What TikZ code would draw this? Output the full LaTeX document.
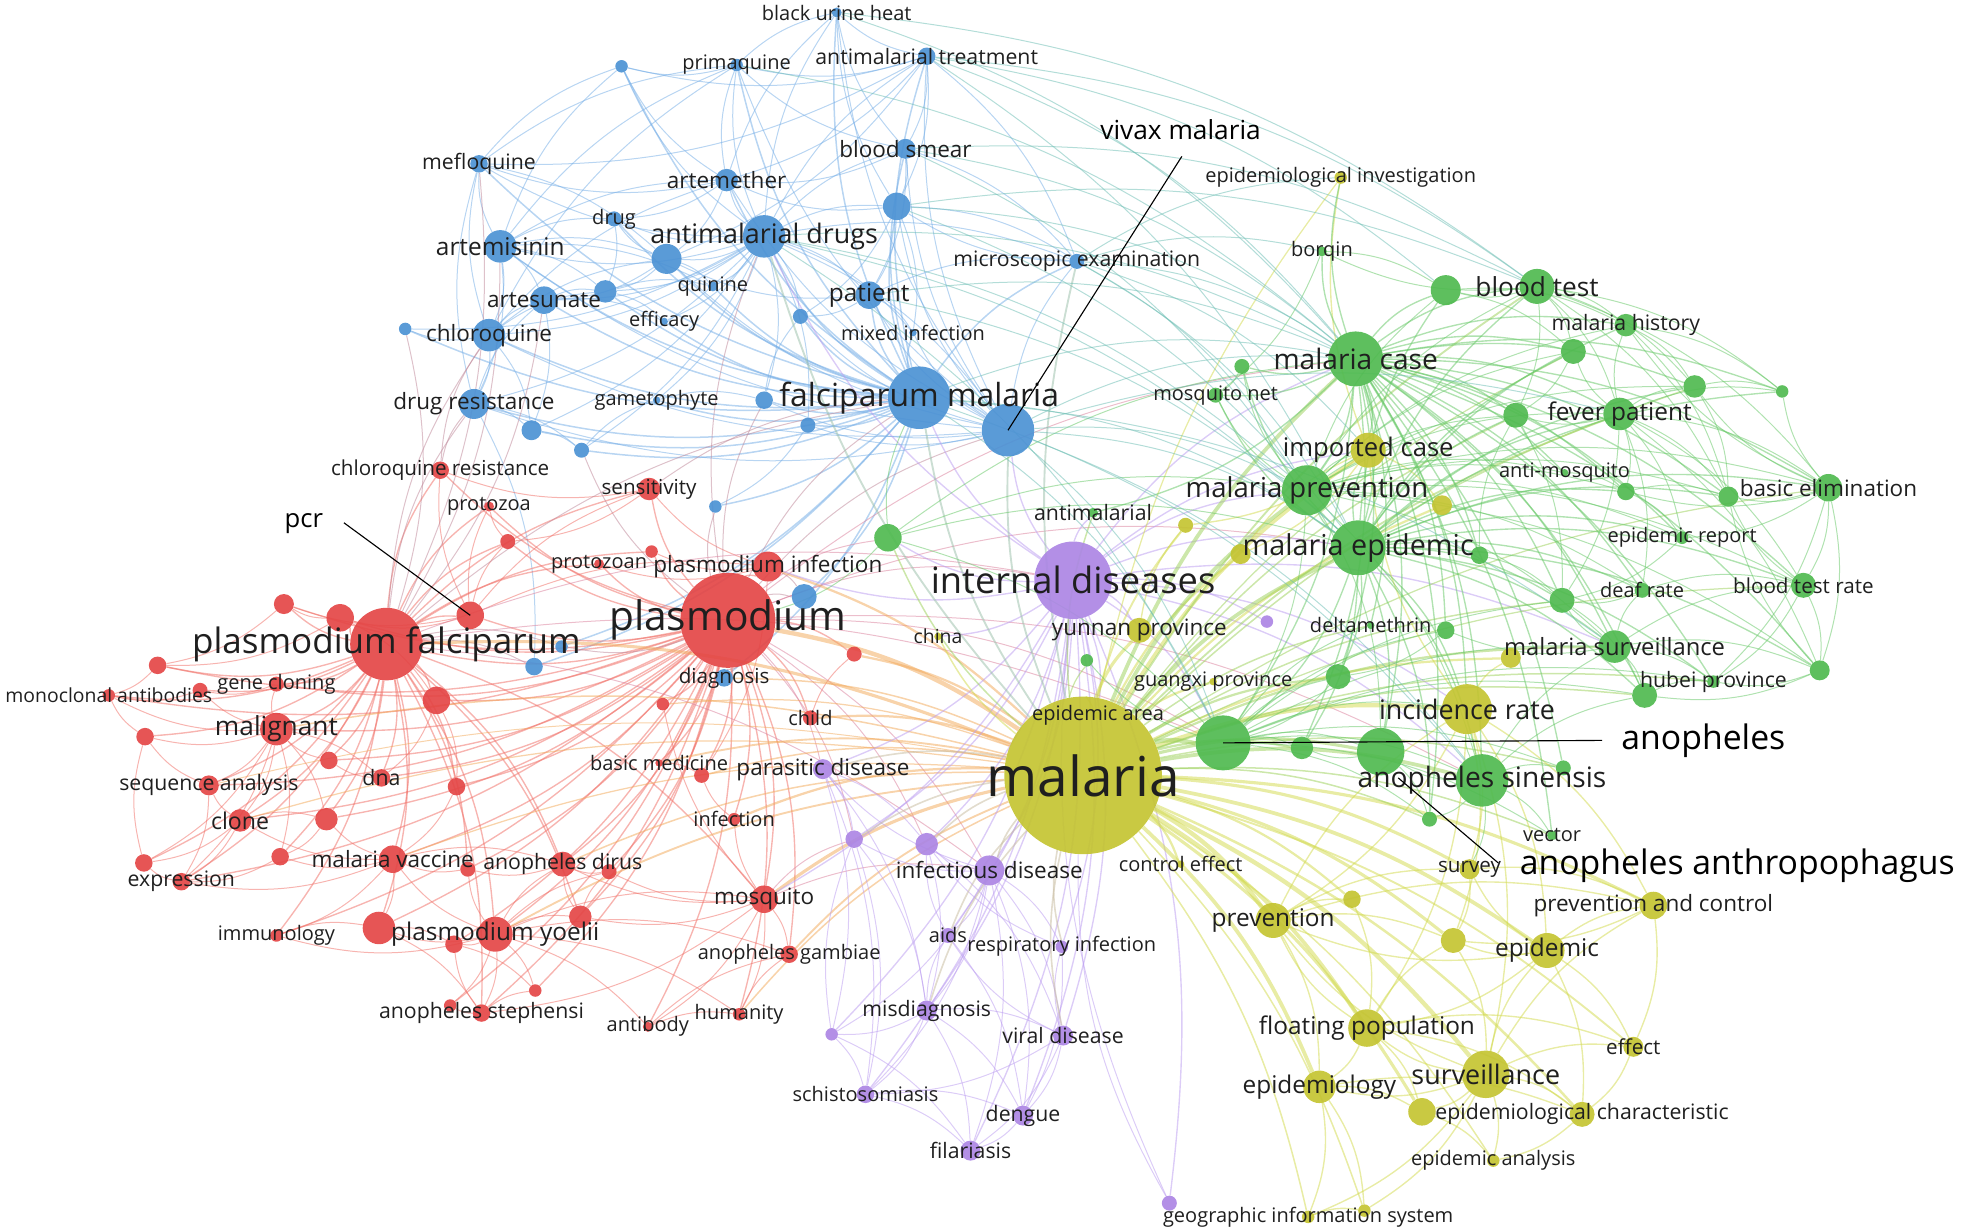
\documentclass[tikz,border=0pt]{standalone}
\usepackage{fontspec}
\newfontfamily\kwfont{Open Sans}
\definecolor{cred}{RGB}{228,70,70}
\definecolor{cblue}{RGB}{76,146,212}
\definecolor{cgreen}{RGB}{80,186,80}
\definecolor{cyel}{RGB}{196,196,50}
\definecolor{cpur}{RGB}{172,134,228}
\definecolor{ered}{RGB}{240,112,104}
\definecolor{eblue}{RGB}{118,174,230}
\definecolor{egreen}{RGB}{104,200,104}
\definecolor{eyel}{RGB}{210,218,80}
\definecolor{epur}{RGB}{188,158,240}
\definecolor{eorange}{RGB}{242,170,92}
\definecolor{eteal}{RGB}{110,190,180}
\pgfdeclarelayer{edges}
\pgfsetlayers{edges,main}

\begin{document}
\begin{tikzpicture}[x=1pt,y=-1pt,
  kw/.style={circle,inner sep=0pt,fill=#1,fill opacity=.92},
  lbl/.style={text=black!88,inner sep=0pt},
  ln/.style={draw=#1,line width=.8pt,draw opacity=.52},
  lead/.style={draw=black,line width=.9pt}]
\useasboundingbox (0,0) rectangle (1568,985);

% keywords: name/x/y/radius/colour
\foreach \nm/\x/\y/\rad/\col in {
  bu/669/10/4/cblue, pq/589/52/5/cblue, b1/497/53/5/cblue, at/741/45/7/cblue,
  bs/724/119/8/cblue, ae/581/144/9/cblue, mf/383/131/7/cblue, dr/491/175/6/cblue,
  as/400/197/13/cblue, ad/611/189/17/cblue, b2/533/207/12/cblue, b3/717/165/11/cblue,
  au/435/240/11/cblue, b4/484/233/9/cblue, qn/570/229/4/cblue, ef/531/257/3/cblue,
  cq/391/268/13/cblue, b5/324/263/5/cblue, pt/695/236/11/cblue, b6/640/253/6/cblue,
  mi/730/266/3/cblue, me/861/209/6/cblue, drs/379/323/12/cblue, gm/525/320/3/cblue,
  b7/611/320/7/cblue, fm/735/318/25/cblue, vm/806/344/21/cblue, b8/425/344/8/cblue,
  b9/465/360/6/cblue, b10/572/405/5/cblue, b11/643/477/10/cblue, b12/646/340/6/cblue,
  dg/579/542/7/cblue, b13/427/533/7/cblue, b14/449/517/5/cblue}
  \node[kw=\col,minimum size=2*\rad] (\nm) at (\x,\y) {};
\foreach \nm/\x/\y/\rad/\col in {
  cr/352/376/7/cred, pz/391/405/4/cred, sn/519/391/9/cred, pcr/376/492/11/cred,
  r1/406/433/6/cred, r2/521/441/5/cred, pzn/479/451/4/cred, pi/614/453/12/cred,
  pl/582/496/38/cred, pf/309/515/29/cred, r3/272/494/11/cred, r4/227/483/8/cred,
  r5/349/560/11/cred, r6/126/532/7/cred, mab/87/556/5/cred, r7/160/552/6/cred,
  gc/221/547/6/cred, mg/221/583/13/cred, r8/116/589/7/cred, r9/263/608/7/cred,
  sa/167/628/8/cred, dna/305/622/7/cred, r10/365/629/7/cred, cl/192/656/9/cred,
  r11/261/655/9/cred, r12/224/685/7/cred, r13/115/690/7/cred, ex/145/705/7/cred,
  mv/314/687/11/cred, r14/374/695/6/cred, adi/450/691/10/cred, r15/487/697/6/cred,
  r16/464/733/9/cred, im/221/748/5/cred, py/396/747/14/cred, r17/303/742/13/cred,
  r18/363/755/7/cred, r19/428/792/5/cred, ast/385/810/7/cred, r20/360/804/5/cred,
  ab/518/821/4/cred, hu/591/811/5/cred, mq/611/719/11/cred, ag/631/763/7/cred,
  inf/587/655/5/cred, bm/527/610/3/cred, r23/561/620/6/cred, ch/648/574/6/cred,
  r21/530/563/5/cred, r22/683/523/6/cred}
  \node[kw=\col,minimum size=2*\rad] (\nm) at (\x,\y) {};
\foreach \nm/\x/\y/\rad/\col in {
  id/858/464/31/cpur, p1/1013/497/5/cpur, pd/658/615/8/cpur, p2/683/671/7/cpur,
  p3/741/675/9/cpur, idz/791/696/12/cpur, aids/758/748/6/cpur, ri/849/757/5/cpur,
  md/741/808/8/cpur, p4/665/827/5/cpur, vd/850/828/8/cpur, sch/692/875/7/cpur,
  den/818/892/8/cpur, fil/776/920/8/cpur, p5/935/962/6/cpur}
  \node[kw=\col,minimum size=2*\rad] (\nm) at (\x,\y) {};
\foreach \nm/\x/\y/\rad/\col in {
  ml/866/620/63/cyel, ea/878/572/3/cyel, yp/911/504/10/cyel, chn/750/509/3/cyel,
  gxpv/970/545/3/cyel, ce/944/691/3/cyel, ic/1094/360/14/cyel, ei/1072/142/5/cyel,
  y1/948/420/6/cyel, y2/1153/404/8/cyel, y3/992/443/8/cyel, ir/1173/567/20/cyel,
  y4/1208/526/8/cyel, prv/1018/736/14/cyel, sv/1175/695/8/cyel, y5/1081/719/7/cyel,
  pc/1322/724/11/cyel, y6/1162/752/10/cyel, epi/1237/760/14/cyel, fp/1093/822/15/cyel,
  eff/1306/837/8/cyel, sur/1188/859/19/cyel, epy/1055/869/13/cyel, y7/1137/889/11/cyel,
  ech/1265/891/10/cyel, ean/1194/928/5/cyel, gis/1046/973/5/cyel, y8/1091/968/5/cyel}
  \node[kw=\col,minimum size=2*\rad] (\nm) at (\x,\y) {};
\foreach \nm/\x/\y/\rad/\col in {
  bq/1057/201/4/cgreen, bt/1229/229/14/cgreen, g1/1156/232/12/cgreen, mh/1300/260/9/cgreen,
  g2/1258/281/10/cgreen, mc/1084/287/22/cgreen, g3/993/293/6/cgreen, mn/972/316/6/cgreen,
  g4/1355/309/9/cgreen, g5/1425/313/5/cgreen, fvp/1295/331/13/cgreen, g6/1212/332/10/cgreen,
  am/1251/378/3/cgreen, g7/1300/393/7/cgreen, be/1462/390/11/cgreen, g8/1382/397/8/cgreen,
  mp/1045/392/20/cgreen, er/1345/430/5/cgreen, mep/1086/438/22/cgreen, aml/874/410/4/cgreen,
  g9/710/430/11/cgreen, g10/1183/444/7/cgreen, dfr/1313/472/6/cgreen, g11/1249/480/10/cgreen,
  btr/1442/468/10/cgreen, dlt/1096/500/3/cgreen, g12/1156/504/7/cgreen, ms/1291/517/13/cgreen,
  g13/1455/536/8/cgreen, hp/1370/545/5/cgreen, g14/1315/556/10/cgreen, g15/1070/541/10/cgreen,
  g16/869/528/5/cgreen, an/978/594/22/cgreen, g17/1041/598/9/cgreen, aa/1104/601/19/cgreen,
  asn/1185/624/21/cgreen, g18/1143/655/6/cgreen, g19/1250/614/6/cgreen, vec/1241/668/4/cgreen}
  \node[kw=\col,minimum size=2*\rad] (\nm) at (\x,\y) {};

\begin{pgfonlayer}{edges}
% blue
\foreach \n in {bu,pq,b1,at,bs,ae,mf,dr,as,ad,b2,b3,au,b4,qn,ef,cq,b5,pt,b6,mi,me,drs,gm,b7,b8,b9,b10,b11,b12,dg,b13,b14,vm}
  \draw[ln=eblue,line width=1.2pt] (fm) to[bend left=15] (\n);
\foreach \n in {bu,pq,b1,at,bs,ae,mf,dr,as,b2,b3,au,b4,qn,ef,cq,pt,b6,drs,gm,b7,b8,b9,vm,me,mi,b5,b12}
  \draw[ln=eblue] (ad) to[bend left=15] (\n);
\foreach \n in {at,bs,b3,pt,me,mi,b6,ae,bu,pq,b2,as,cq,b12,b7,drs}
  \draw[ln=eblue] (vm) to[bend left=15] (\n);
\foreach \a/\b in {as/mf,as/dr,as/ae,as/au,as/cq,as/drs,as/b4,as/b2,as/qn,as/pq,as/b1,
  cq/mf,cq/au,cq/drs,cq/b5,cq/b8,cq/pq,cq/b2,cq/b4,cq/ae,
  at/bu,at/pq,at/bs,at/b3,at/ae,at/me,at/b2,at/b1,at/mf,
  bs/b3,bs/pt,bs/ae,bs/me,bs/bu,bs/pq,b3/pt,b3/ae,b3/me,b3/b6,b3/mi,b3/bu,
  ae/mf,ae/dr,ae/pq,ae/b1,ae/b2,ae/bu,pt/b6,pt/mi,pt/b2,pt/me,
  drs/b8,drs/b9,drs/au,drs/mf,drs/b13,mf/b1,mf/pq,mf/b2,b2/au,b2/b4,b2/qn,b2/dr,
  au/b4,au/b8,au/ef,b4/ef,b4/qn,b8/b9,b9/gm,gm/b7,b7/b6,b12/b10,pq/bu,pq/b1,me/b3,dr/b4}
  \draw[ln=eblue] (\a) to[bend left=15] (\b);
% red
\foreach \n in {cr,pz,sn,pcr,r1,r2,pzn,pi,pf,r3,r4,r5,gc,mg,r9,sa,dna,r10,cl,r11,mv,r14,adi,r15,r16,py,r17,r18,ast,ab,hu,mq,ag,inf,bm,r21,ch,r22,r23,mab,r6,ex,im,r19,r20}
  \draw[ln=ered,line width=1.1pt] (pl) to[bend left=15] (\n);
\foreach \n in {cr,pz,sn,pcr,r1,r3,r4,r5,r6,mab,r7,gc,mg,r8,r9,sa,dna,r10,cl,r11,r12,r13,ex,mv,r14,adi,py,r17,r16,im,pzn,r2,mq,ast}
  \draw[ln=ered,line width=1.1pt] (pf) to[bend left=15] (\n);
\foreach \n in {mv,adi,ast,r16,r17,r18,r19,r20,im,mq,ag,hu,ab,r14,r15}
  \draw[ln=ered] (py) to[bend left=15] (\n);
\foreach \a/\b in {mg/sa,mg/cl,mg/r8,mg/r11,mg/r12,mg/ex,mg/r13,mg/mab,mg/r7,mg/gc,mg/dna,
  mv/r17,mv/adi,mv/cl,mv/r11,mv/r12,mv/im,mv/ex,mq/ag,mq/hu,mq/ab,mq/inf,mq/adi,mq/ast,mq/r16,
  cl/sa,cl/ex,cl/r13,cl/r11,pcr/r3,pcr/r4,pcr/r1,pcr/pz,pcr/cr,pcr/sn,pcr/pi,
  pi/sn,pi/r2,pi/pzn,pi/r23,sn/r1,sn/cr,r3/r4,r3/r6,r4/r6,ex/r13,sa/r8,
  r3/r5,r5/dna,r5/r10,r9/mg,r11/r12,r17/r18,r16/adi,r15/adi,r14/mv,r1/pz,mq/r21,inf/r23,
  ch/r22,bm/r23,ab/hu,ab/ag,ast/r20,ast/r19,ast/r18,hu/ag,sa/ex,r13/r8,r8/mab,r6/mab,
  r7/mab,gc/r7,im/r17,r10/mv,dna/r9,r12/ex,r18/r19,adi/r14,r16/r15,mq/r15,r17/ast}
  \draw[ln=ered] (\a) to[bend left=15] (\b);
\foreach \a/\b in {pl/fm,pl/vm,pl/ad,pl/dg,pl/b11,pf/fm,pf/drs,pf/cq,sn/fm,cr/cq,cr/drs,pi/b11,pl/b10,pl/b7,
  mf/pf,b5/pf,as/pf,au/pf,pf/b13,pf/b14,pl/b14,pl/b9}
  \draw[ln=ered!60!eblue] (\a) to[bend left=15] (\b);
\foreach \a/\b in {pl/id,pl/pd,pl/idz,pf/id,mq/idz,pl/an,pl/mc,pl/asn,pl/mep,pf/an,pl/g9,pl/p2,pl/p3,mq/p2,pf/idz}
  \draw[ln=ered!60!epur] (\a) to[bend left=15] (\b);
\foreach \n/\w in {pl/3.5,pf/2.5,mq/2.5,pi/1.8,py/1.5,ch/1.8,inf/1.8,bm/1.5,ag/1.5,adi/1.2,hu/1.2,r22/1.8,dg/1.2,r23/1.2,cl/1,mg/1.2,sa/.8,mv/1,r21/1}
  \draw[ln=eorange,line width=\w pt] (\n) to[bend left=12] (ml);
% purple
\foreach \n in {p1,pd,p2,p3,idz,aids,ri,md,p4,vd,sch,den,fil,p5,chn,yp,mq,ml,fm,vm,mc,mp,mep,an,asn,ir,g9,aml,ad,pi,ic,ms}
  \draw[ln=epur,line width=1.1pt] (id) to[bend left=15] (\n);
\foreach \n in {p2,p3,aids,ri,md,p4,vd,sch,den,fil,pd}
  \draw[ln=epur] (idz) to[bend left=15] (\n);
\foreach \a/\b in {md/sch,md/den,md/fil,md/p4,md/vd,md/aids,vd/den,vd/fil,vd/sch,vd/ri,vd/aids,
  pd/p2,pd/p3,pd/sch,pd/md,pd/p4,p4/sch,p4/fil,p4/p2,sch/fil,sch/den,p5/ml,p5/id,den/fil,aids/p3,ri/p3,
  p2/sch,p3/md,p3/vd,p2/md,aids/den,ri/den}
  \draw[ln=epur] (\a) to[bend left=15] (\b);
\foreach \n in {idz,pd,p3,p2,aids,vd,md,ri}
  \draw[ln=epur!50!eyel,line width=1.3pt] (\n) to[bend left=12] (ml);
% yellow
\foreach \n/\w in {ea/1,yp/2.5,chn/1.2,gxpv/1.8,ce/1.8,ic/3,ei/1,y1/1.5,y2/1.8,y3/1.8,ir/3.5,y4/1.8,prv/3.5,sv/2.5,y5/1.8,pc/2.5,y6/2.5,epi/3,fp/3,eff/1.5,sur/3.5,epy/3,y7/2.5,ech/2,ean/1.2,gis/1.2,y8/1.2}
  \draw[ln=eyel,line width=\w pt] (ml) to[bend left=12] (\n);
\foreach \n/\w in {mc/3,mp/3,mep/3,an/3.5,asn/3,aa/2.5,g17/1.8,g15/1.8,bt/1.5,fvp/1.5,ms/1.8,g4/1.2,g6/1.2,g11/1.2,g14/1.2,dlt/1.2,hp/1.2,g16/1,g18/1.2,g19/1.2,vec/1.2,g9/1.2,aml/1.2,be/1,btr/1,g2/1}
  \draw[ln=eyel!50!egreen,line width=\w pt] (ml) to[bend left=12] (\n);
\foreach \n in {fm,vm,ad,me}
  \draw[ln=eyel!40!eblue,line width=1.5pt] (ml) to[bend left=12] (\n);
\foreach \a/\b in {sur/fp,sur/epy,sur/y7,sur/ech,sur/ean,sur/eff,sur/epi,sur/pc,sur/prv,sur/gis,sur/y8,
  epi/pc,epi/fp,epi/y6,epi/prv,epi/sv,epi/eff,epi/ech,fp/prv,fp/epy,fp/y7,fp/y6,fp/eff,fp/ech,
  prv/epy,prv/y5,prv/y6,prv/pc,prv/ir,ir/ic,ir/y4,ir/epi,ir/prv,ir/fp,ir/sur,ir/sv,
  ic/y2,ic/y1,ic/y3,ic/ei,epy/y7,epy/gis,epy/ech,pc/eff,pc/y6,sv/y6,
  prv/sv,sv/pc,y5/fp,y6/sur,eff/ech,ech/ean,y7/ean,gis/y8,epy/y8,ir/pc,ir/y6,yp/y1,y3/ic}
  \draw[ln=eyel,line width=1.1pt] (\a) to[bend left=15] (\b);
% green
\foreach \n in {bq,bt,g1,mh,g2,g3,mn,g4,g5,fvp,g6,am,g7,be,g8,mp,er,mep,g10,dfr,g11,btr,dlt,g12,ms,g13,hp,g14,g15,an,g17,aa,asn,g18,g19,vec,aml,ic,ir,ei}
  \draw[ln=egreen,line width=1.1pt] (mc) to[bend left=15] (\n);
\foreach \n in {bt,g1,mh,g2,g4,fvp,g6,g7,be,g8,er,g10,dfr,g11,btr,ms,g13,hp,g14,g15,an,g17,aa,asn,g18,ic,ir,mp,g5,g3,mn}
  \draw[ln=egreen,line width=1.1pt] (mep) to[bend left=15] (\n);
\foreach \n in {bt,g1,mh,g2,fvp,g6,be,er,dfr,btr,ms,an,aa,asn,ic,g3,mn,am,g7,g8,g4,g13}
  \draw[ln=egreen] (mp) to[bend left=15] (\n);
\foreach \n in {aa,asn,g15,g17,g18,g19,ms,g14,ir,vec,g16,g11,hp,g12,dlt}
  \draw[ln=egreen] (an) to[bend left=15] (\n);
\foreach \a/\b in {asn/aa,asn/g18,asn/g19,asn/vec,asn/ms,asn/g14,asn/ir,asn/sv,
  bt/g1,bt/mh,bt/g2,bt/g4,bt/fvp,bt/g6,bt/be,bt/bq,
  fvp/mh,fvp/g2,fvp/g4,fvp/g5,fvp/g6,fvp/g7,fvp/be,fvp/g8,fvp/er,fvp/btr,fvp/dfr,fvp/g11,
  be/g4,be/g5,be/g8,be/btr,be/g13,be/er,be/mh,be/g7,ms/g11,ms/g13,ms/hp,ms/g14,ms/btr,ms/dfr,ms/g12,
  g1/g2,g1/mh,mh/g4,g4/g5,btr/g13,btr/g8,dfr/g11,aa/g18,aa/g17,g9/fm,g9/pl,g9/mc,g9/mp,g9/mep,g9/an,
  bt/g5,bt/g8,fvp/g13,mh/g8,g2/g6,g6/g11,g11/g14,g14/hp,g13/hp,g13/g8,er/g11,dfr/btr,g12/g15,
  g15/an,g10/g11,g10/g6,mh/g5,g4/g8,am/g7,am/g6,g7/er,g7/g8,g3/mn,bq/g1,bq/mn,be/hp,btr/hp,g13/g14}
  \draw[ln=egreen] (\a) to[bend left=15] (\b);
\foreach \a/\b in {at/bt,bs/mc,b3/mep,me/mc,vm/mc,vm/mp,vm/mep,fm/mep,fm/mc,pt/mc,fm/an,vm/an,
  ad/mc,bs/bt,at/g1,me/mep,fm/ms,vm/fvp,me/bq,ad/mp,b3/mc,vm/asn,fm/asn,me/ei,
  at/mc,at/mep,bu/bt,b3/bt,bs/mp,me/mp,me/ic,pt/mep,ad/mep,ad/an,bu/mc,pq/mc}
  \draw[ln=eteal] (\a) to[bend left=15] (\b);
\end{pgfonlayer}

% labels: name/text/size
\foreach \nm/\txt/\fs in {
  bu/black urine heat/16, pq/primaquine/16, at/antimalarial treatment/17, bs/blood smear/18,
  ae/artemether/18, mf/mefloquine/17, dr/drug/16, as/artemisinin/19.5, ad/antimalarial drugs/21.5,
  au/artesunate/18, qn/quinine/16, ef/efficacy/16, cq/chloroquine/18, pt/patient/19.5,
  mi/mixed infection/16, me/microscopic examination/17, drs/drug resistance/18, gm/gametophyte/16,
  fm/falciparum malaria/25.5, dg/diagnosis/16.5,
  cr/chloroquine resistance/16.5, pz/protozoa/16, sn/sensitivity/16.5, pzn/protozoan/16,
  pi/plasmodium infection/18, pl/plasmodium/32.5, pf/plasmodium falciparum/28,
  mab/monoclonal antibodies/15.5, gc/gene cloning/16, mg/malignant/21, sa/sequence analysis/17,
  dna/dna/17, cl/clone/18.5, ex/expression/17, mv/malaria vaccine/18, adi/anopheles dirus/17,
  im/immunology/16, py/plasmodium yoelii/19.5, ast/anopheles stephensi/17, ab/antibody/16,
  hu/humanity/16, mq/mosquito/18, ag/anopheles gambiae/16, inf/infection/16, bm/basic medicine/16,
  ch/child/16,
  id/internal diseases/29, pd/parasitic disease/18, idz/infectious disease/18, aids/aids/16,
  ri/respiratory infection/16, md/misdiagnosis/17, vd/viral disease/17, sch/schistosomiasis/16,
  den/dengue/17, fil/filariasis/17,
  ml/malaria/44, ea/epidemic area/16, yp/yunnan province/18, chn/china/15.5,
  gxpv/guangxi province/16, ce/control effect/16, ic/imported case/20.5,
  ei/epidemiological investigation/16, ir/incidence rate/21.5, prv/prevention/19.5,
  sv/survey/16.5, pc/prevention and control/18, epi/epidemic/19.5, fp/floating population/19.5,
  eff/effect/16.5, sur/surveillance/21.5, epy/epidemiology/19.5,
  ech/epidemiological characteristic/17, ean/epidemic analysis/16,
  gis/geographic information system/16,
  bq/borqin/16, bt/blood test/21, mh/malaria history/17, mc/malaria case/22.5, mn/mosquito net/16,
  fvp/fever patient/19.5, am/anti-mosquito/16, be/basic elimination/18, mp/malaria prevention/22,
  er/epidemic report/16, mep/malaria epidemic/23, aml/antimalarial/17, dfr/deaf rate/16,
  btr/blood test rate/16.5, dlt/deltamethrin/16, ms/malaria surveillance/19, hp/hubei province/17,
  vec/vector/16, asn/anopheles sinensis/22.5}
  \node[lbl,font=\kwfont\fontsize{\fs}{\fs}\selectfont] (\nm-t) at (\nm) {\txt};

% called-out keywords
\node[font=\kwfont\fontsize{21}{21}\selectfont,inner sep=0pt] (vm-t) at (944,104) {vivax malaria};
\node[font=\kwfont\fontsize{20.5}{20.5}\selectfont,inner sep=0pt] (pcr-t) at (243,419) {pcr};
\node[font=\kwfont\fontsize{27}{27}\selectfont,inner sep=0pt] (an-t) at (1362,592) {anopheles};
\node[font=\kwfont\fontsize{27}{27}\selectfont,inner sep=0pt,anchor=west] (aa-t) at (1215,692) {anopheles anthropophagus};
\coordinate (vmend) at (945,125);
\coordinate (pcrend) at (275,418);
\coordinate (anend) at (1281,592);
\coordinate (aaend) at (1198,690);
\coordinate (aatip) at (1118,622);
\draw[lead] (vmend) -- (vm.center);
\draw[lead] (pcrend) -- (pcr.center);
\draw[lead] (an.center) -- (anend);
\draw[lead] (aatip) -- (aaend);
\end{tikzpicture}
\end{document}
